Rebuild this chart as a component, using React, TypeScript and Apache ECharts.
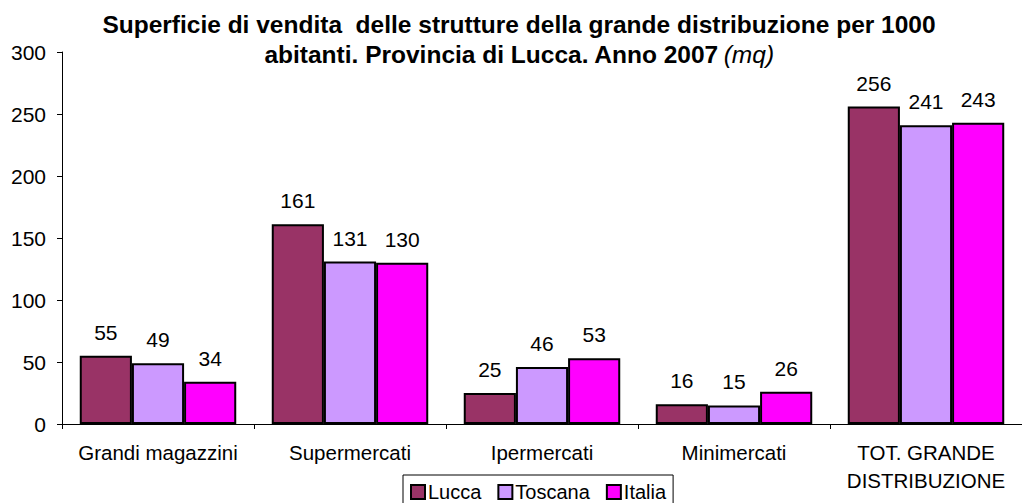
import React, { useEffect, useRef } from "react";
import * as echarts from "echarts";

const categories = ["Grandi magazzini", "Supermercati", "Ipermercati", "Minimercati", "TOT. GRANDE\nDISTRIBUZIONE"];
const lucca = [55, 161, 25, 16, 256];
const toscana = [49, 131, 46, 15, 241];
const italia = [34, 130, 53, 26, 243];
const seriesNames = ["Lucca", "Toscana", "Italia"];
const seriesColors = ["#993366", "#CC99FF", "#FF00FF"];
const yTicks = { min: 0, max: 300, interval: 50 };

const FONT = "Liberation Sans, Arial, sans-serif";

export default function App() {
  const ref = useRef<HTMLDivElement>(null);
  useEffect(() => {
    if (!ref.current) return;
    const chart = echarts.init(ref.current, null, { renderer: "svg" });
    const data = [lucca, toscana, italia];
    chart.setOption({
      animation: false,
      backgroundColor: "#ffffff",
      textStyle: { fontFamily: FONT },
      title: {
        text: "{b|Superficie di vendita  delle strutture della grande distribuzione per 1000}\n{b|abitanti. Provincia di Lucca. Anno 2007} {i|(mq)}",
        left: 519,
        top: 9,
        padding: 0,
        textAlign: "center",
        textStyle: {
          rich: {
            b: { fontFamily: FONT, fontWeight: "bold", fontSize: 24.5, lineHeight: 30, color: "#000" },
            i: { fontFamily: FONT, fontStyle: "italic", fontWeight: "normal", fontSize: 24.5, lineHeight: 30, color: "#000" },
          },
        },
      },
      legend: {
        data: seriesNames,
        left: 403,
        top: 475,
        orient: "horizontal",
        itemWidth: 14,
        itemHeight: 14,
        itemGap: 16,
        padding: [7, 7, 6, 7],
        borderColor: "#000",
        borderWidth: 1,
        textStyle: { fontFamily: FONT, fontSize: 20, color: "#000", padding: [0, 0, 0, -2] },
        icon: "rect",
      },
      grid: { left: 62, top: 52, width: 975, height: 372, containLabel: false },
      xAxis: {
        type: "category",
        data: categories,
        axisLine: { lineStyle: { color: "#000", width: 1 } },
        axisTick: { show: true, length: 5, lineStyle: { color: "#000" } },
        axisLabel: {
          interval: 0,
          hideOverlap: false,
          fontFamily: FONT,
          fontSize: 20.5,
          color: "#000",
          margin: 14.5,
          lineHeight: 28,
        },
      },
      yAxis: {
        type: "value",
        min: yTicks.min,
        max: yTicks.max,
        interval: yTicks.interval,
        splitLine: { show: false },
        axisLine: { show: true, lineStyle: { color: "#000", width: 1 } },
        axisTick: { show: true, length: 5, lineStyle: { color: "#000" } },
        axisLabel: { fontFamily: FONT, fontSize: 21, color: "#000", margin: 16 },
      },
      series: seriesNames.map((name, i) => ({
        name,
        type: "bar",
        data: data[i],
        barGap: "0%",
        barCategoryGap: "18.5%",
        itemStyle: { color: seriesColors[i], borderColor: "#000", borderWidth: 2 },
        label: {
          show: true,
          position: "top",
          distance: 13,
          fontFamily: FONT,
          fontSize: 21,
          color: "#000",
        },
      })),
    });
    return () => chart.dispose();
  }, []);
  return <div ref={ref} style={{ width: 1022, height: 503, position: "absolute", left: 0, top: 0 }} />;
}
